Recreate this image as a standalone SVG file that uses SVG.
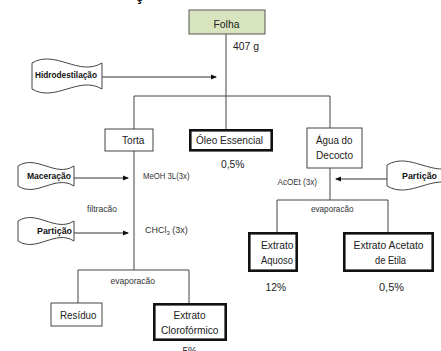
<svg xmlns="http://www.w3.org/2000/svg" width="441" height="351" viewBox="0 0 441 351">
<defs>
<marker id="ah" markerWidth="6" markerHeight="6" refX="5" refY="3" orient="auto" markerUnits="userSpaceOnUse">
<path d="M0,0.5 L6,3 L0,5.5 Z" fill="#111"/>
</marker>
<style>
text{font-family:"Liberation Sans",Arial,sans-serif;fill:#222}
.m{font-size:11.5px}
.s{font-size:8.5px;fill:#333}
.b{font-size:9px;font-weight:bold;fill:#111}
.thin{fill:#fff;stroke:#444;stroke-width:1}
.thick{fill:#fff;stroke:#111;stroke-width:2.6}
.wave{fill:#fff;stroke:#444;stroke-width:1}
.ln{fill:none;stroke:#444;stroke-width:1}
.ar{fill:none;stroke:#333;stroke-width:1;marker-end:url(#ah)}
</style>
</defs>
<rect width="441" height="351" fill="#fff"/>
<text x="135" y="1" style="font-size:16px;font-weight:bold;fill:#111">ç</text>

<g id="connectors">
<path class="ln" d="M226,34 V129 M134,96 H330 M134,96 V129 M330,96 V128 M134,151 V270 M78,270 H189 M78,270 V303 M189,270 V303 M330,168 V200 M277,200 H388 M277,200 V232 M388,200 V232"/>
<path class="ar" d="M102,77 H216"/>
<path class="ar" d="M74,178 H128"/>
<path class="ar" d="M74,233 H128"/>
<path class="ar" d="M387,179 H336"/>
</g>

<g id="folha">
<rect x="189" y="10" width="76" height="24" fill="#d7e4bd" stroke="#555" stroke-width="1"/>
<text class="m" x="213.5" y="27.5" textLength="26" lengthAdjust="spacingAndGlyphs">Folha</text>
</g>
<text class="m" x="233" y="49.5" textLength="26" lengthAdjust="spacingAndGlyphs">407 g</text>

<g id="hidrodestilacao">
<path class="wave" d="M32,63 C55.3,49 78.7,77 102,63 L102,89 C78.7,75 55.3,103 32,89 Z"/>
<text class="b" x="35" y="78" textLength="62" lengthAdjust="spacingAndGlyphs">Hidrodestilação</text>
</g>

<g id="torta">
<rect class="thin" x="105" y="129" width="48" height="22"/>
<text class="m" x="122" y="143.5" textLength="22.5" lengthAdjust="spacingAndGlyphs">Torta</text>
</g>

<g id="oleo">
<rect class="thick" x="190.3" y="130.3" width="81.4" height="20"/>
<text class="m" x="196" y="143.5" textLength="67" lengthAdjust="spacingAndGlyphs">Óleo Essencial</text>
</g>
<text class="m" x="221" y="167.5" textLength="23.5" lengthAdjust="spacingAndGlyphs">0,5%</text>

<g id="agua">
<rect class="thin" x="307" y="128" width="55" height="40"/>
<text class="m" x="316" y="144" textLength="36.5" lengthAdjust="spacingAndGlyphs">Água do</text>
<text class="m" x="316" y="158.5" textLength="37" lengthAdjust="spacingAndGlyphs">Decocto</text>
</g>

<g id="particao-dir">
<path class="wave" d="M387,165 C410.3,151 433.7,179 457,165 L457,186 C433.7,172 410.3,200 387,186 Z"/>
<text class="b" x="402" y="178.5" textLength="35" lengthAdjust="spacingAndGlyphs">Partição</text>
</g>
<text class="s" x="277.5" y="184.5" textLength="39.5" lengthAdjust="spacingAndGlyphs">AcOEt (3x)</text>
<text class="s" x="311" y="211.5" textLength="42.5" lengthAdjust="spacingAndGlyphs">evaporacão</text>

<g id="maceracao">
<path class="wave" d="M18,166 C36.7,154 55.3,178 74,166 L74,186 C55.3,174 36.7,198 18,186 Z"/>
<text class="b" x="27" y="178.5" textLength="44" lengthAdjust="spacingAndGlyphs">Maceração</text>
</g>
<text class="s" x="143" y="179.3" textLength="46.5" lengthAdjust="spacingAndGlyphs">MeOH 3L(3x)</text>
<text class="s" x="102" y="211.5" text-anchor="middle">filtracão</text>

<g id="particao-esq">
<path class="wave" d="M18,221 C36.7,209 55.3,233 74,221 L74,241 C55.3,229 36.7,253 18,241 Z"/>
<text class="b" x="37" y="233.5" textLength="35" lengthAdjust="spacingAndGlyphs">Partição</text>
</g>
<text class="s" x="145" y="233.3" style="font-size:9px">CHCl<tspan style="font-size:6px" baseline-shift="-1.5">3</tspan> (3x)</text>

<g id="extrato-aquoso">
<rect class="thick" x="249.3" y="233.3" width="47.4" height="37.4"/>
<text class="m" x="261" y="248.5" textLength="32.5" lengthAdjust="spacingAndGlyphs">Extrato</text>
<text class="m" x="261" y="263.5" textLength="32" lengthAdjust="spacingAndGlyphs">Aquoso</text>
</g>
<text class="m" x="265.5" y="291" textLength="20.5" lengthAdjust="spacingAndGlyphs">12%</text>

<g id="extrato-acetato">
<rect class="thick" x="344.3" y="233.3" width="88.4" height="37.4"/>
<text class="m" x="353.5" y="248.5" textLength="70" lengthAdjust="spacingAndGlyphs">Extrato Acetato</text>
<text class="m" x="375" y="263.5" textLength="31" lengthAdjust="spacingAndGlyphs">de Etila</text>
</g>
<text class="m" x="379" y="291" textLength="25" lengthAdjust="spacingAndGlyphs">0,5%</text>

<text class="s" x="110.5" y="283.5" textLength="44.5" lengthAdjust="spacingAndGlyphs">evaporacão</text>

<g id="residuo">
<rect class="thin" x="51" y="303" width="51" height="23"/>
<text class="m" x="60" y="318.5" textLength="36.5" lengthAdjust="spacingAndGlyphs">Resíduo</text>
</g>

<g id="extrato-cloroformico">
<rect class="thick" x="154.3" y="304.3" width="71.4" height="35.4"/>
<text class="m" x="173.5" y="318.5" textLength="32" lengthAdjust="spacingAndGlyphs">Extrato</text>
<text class="m" x="161" y="333.5" textLength="57.5" lengthAdjust="spacingAndGlyphs">Clorofórmico</text>
</g>
<text class="m" x="182.5" y="355" textLength="14.5" lengthAdjust="spacingAndGlyphs">5%</text>
</svg>
